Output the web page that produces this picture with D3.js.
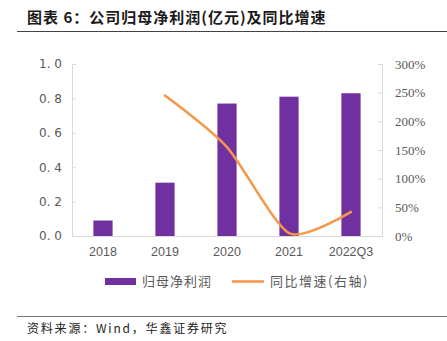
<!DOCTYPE html>
<html>
<head>
<meta charset="utf-8">
<script src="https://cdn.jsdelivr.net/npm/d3@7"></script>
<style>
    body { margin: 0; background: #fff; }
    svg { display: block; }
</style>
</head>
<body>
<div id="chart"></div>
<script>
const years = ["2018", "2019", "2020", "2021", "2022Q3"];
const profit = [0.09, 0.31, 0.77, 0.81, 0.83];
const growth = [null, 245, 155, 5, 42];
const leftTicks = [0, 0.2, 0.4, 0.6, 0.8, 1.0];
const rightTicks = [0, 50, 100, 150, 200, 250, 300];

document.addEventListener("DOMContentLoaded", () => {
    const fullWidth = 447;
    const fullHeight = 341;
    const cjk = "'Noto Sans CJK SC', sans-serif";
    const purple = "#7030a0";
    const orange = "#f79646";
    const grey = "#595959";

    const svg = d3.select("#chart")
        .append("svg")
        .attr("width", fullWidth)
        .attr("height", fullHeight);

    // title and rules
    svg.append("text")
        .attr("x", 27)
        .attr("y", 23)
        .style("font-family", cjk)
        .style("font-weight", "bold")
        .style("font-size", "15px")
        .style("letter-spacing", "1px")
        .style("fill", "#1a1a1a")
        .text("图表 6：公司归母净利润(亿元)及同比增速");
    svg.append("line")
        .attr("x1", 17).attr("x2", fullWidth)
        .attr("y1", 31.5).attr("y2", 31.5)
        .attr("stroke", "#444").attr("stroke-width", 1);
    svg.append("line")
        .attr("x1", 17).attr("x2", fullWidth)
        .attr("y1", 316.5).attr("y2", 316.5)
        .attr("stroke", "#777").attr("stroke-width", 1);
    svg.append("text")
        .attr("x", 27)
        .attr("y", 333)
        .style("font-family", cjk)
        .style("font-size", "12px")
        .style("letter-spacing", "1.8px")
        .style("fill", "#222")
        .text("资料来源：Wind，华鑫证券研究");

    const left = 72, right = 382, top = 64, bottom = 236;

    const xScale = d3.scaleBand()
        .domain(years)
        .range([left, right])
        .paddingInner(0.69)
        .paddingOuter(0.345);
    const yScale = d3.scaleLinear().domain([0, 1]).range([bottom, top]);
    const y2Scale = d3.scaleLinear().domain([0, 300]).range([bottom, top]);

    // axes
    const yAxis = svg.append("g")
        .attr("transform", "translate(" + left + ",0)")
        .call(d3.axisLeft(yScale).tickValues(leftTicks).tickSize(-4).tickPadding(10)
            .tickFormat(d => d3.format(".1f")(d).split("").join(" ").replace(" . ", ". ")));
    const y2Axis = svg.append("g")
        .attr("transform", "translate(" + right + ",0)")
        .call(d3.axisRight(y2Scale).tickValues(rightTicks).tickSize(-4).tickPadding(13)
            .tickFormat(d => d + "%"));
    const xAxis = svg.append("g")
        .attr("transform", "translate(0," + bottom + ")")
        .call(d3.axisBottom(xScale).tickSize(0).tickPadding(11));

    [yAxis, y2Axis, xAxis].forEach(g => {
        g.select(".domain").attr("stroke", "#d9d9d9");
        g.selectAll(".tick line").attr("stroke", "#d9d9d9");
        g.selectAll("text").style("fill", grey).style("font-size", "12px");
    });
    yAxis.selectAll("text").style("font-family", "'DejaVu Sans', sans-serif").style("font-size", "12px");
    y2Axis.selectAll("text").style("font-family", "'Liberation Serif', serif").style("font-size", "13px");
    xAxis.selectAll("text").style("font-family", "'Liberation Sans', sans-serif").style("font-size", "12.5px");

    // bars
    svg.selectAll(".bar")
        .data(profit)
        .enter()
        .append("rect")
        .attr("class", "bar")
        .attr("x", (d, i) => xScale(years[i]))
        .attr("width", xScale.bandwidth())
        .attr("y", d => yScale(d))
        .attr("height", d => bottom - yScale(d))
        .attr("fill", purple);

    // growth line
    const pts = growth.map((d, i) => [xScale(years[i]) + xScale.bandwidth() / 2, d])
        .filter(p => p[1] !== null);
    const line = d3.line()
        .x(p => p[0])
        .y(p => y2Scale(p[1]))
        .curve(d3.curveCardinal.tension(0.3));
    svg.append("path")
        .attr("d", line(pts))
        .attr("fill", "none")
        .attr("stroke", orange)
        .attr("stroke-width", 2.5)
        .attr("stroke-linecap", "round");

    // legend
    const legend = svg.append("g").attr("id", "legend");
    legend.append("rect")
        .attr("x", 105).attr("y", 278)
        .attr("width", 31).attr("height", 7)
        .attr("fill", purple);
    legend.append("text")
        .attr("x", 142).attr("y", 286)
        .style("font-family", cjk).style("font-size", "13px").style("fill", grey)
        .style("letter-spacing", "1px")
        .text("归母净利润");
    legend.append("line")
        .attr("x1", 232).attr("x2", 264)
        .attr("y1", 281.5).attr("y2", 281.5)
        .attr("stroke", orange).attr("stroke-width", 2.5);
    legend.append("text")
        .attr("x", 270).attr("y", 286)
        .style("font-family", cjk).style("font-size", "13px").style("fill", grey)
        .style("letter-spacing", "1.5px")
        .text("同比增速(右轴)");
});
</script>
</body>
</html>
